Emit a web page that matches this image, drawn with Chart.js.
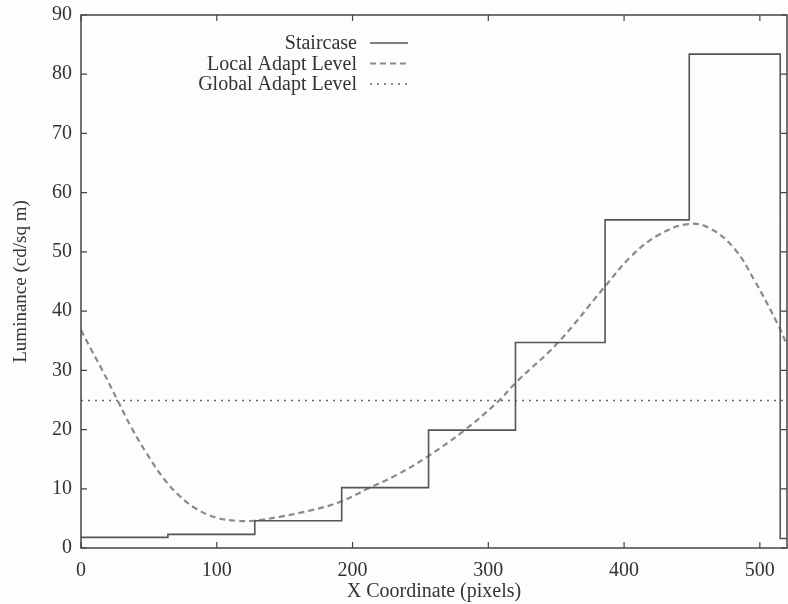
<!DOCTYPE html>
<html>
<head>
<meta charset="utf-8">
<script src="https://cdn.jsdelivr.net/npm/chart.js@4.4.0/dist/chart.umd.min.js"></script>
<style>
  html, body { margin: 0; padding: 0; background: #fdfdfd; }
  #wrap { width: 788px; height: 604px; }
</style>
</head>
<body>
<div id="wrap"><canvas id="chart" width="788" height="604"></canvas></div>
<script>
// Staircase luminance (step starts)
const stairX = [0, 64, 128, 192, 256, 320, 386, 448, 515, 520];
const stairY = [1.8, 2.3, 4.6, 10.2, 19.9, 34.7, 55.4, 83.4, 1.6, 1.6];

// Local adaptation level
const localX = [0, 8, 16, 27, 37, 48, 61, 73, 85, 100, 115, 127, 147, 170, 191, 211, 233, 255, 282, 307, 321, 351, 385, 405, 425, 447, 463, 481, 496, 514, 520];
const localY = [36.8, 33.3, 29.9, 24.9, 20.4, 16.1, 11.7, 8.7, 6.6, 5.1, 4.6, 4.6, 5.3, 6.4, 7.8, 10.0, 12.4, 15.4, 19.8, 24.7, 28.1, 34.6, 43.9, 49.2, 52.8, 54.7, 54.0, 50.6, 45.2, 37.4, 34.2];

// Global adaptation level
const globalX = [0, 520];
const globalY = [24.9, 24.9];

const seriesNames = ['Staircase', 'Local Adapt Level', 'Global Adapt Level'];
const xTicks = [0, 100, 200, 300, 400, 500];
const yTicks = [0, 10, 20, 30, 40, 50, 60, 70, 80, 90];

const FONT = "'Liberation Serif', 'DejaVu Serif', serif";
const INK = '#333333';

function pairs(xs, ys) {
  return xs.map(function(x, i) { return { x: x, y: ys[i] }; });
}

// gnuplot-like frame, inward ticks on all sides, and legend inside the plot
const framePlugin = {
  id: 'frame',
  afterDatasetsDraw(chart) {
    const ctx = chart.ctx;
    const a = chart.chartArea;
    const xs = chart.scales.x, ys = chart.scales.y;
    const tl = 6;
    ctx.save();
    ctx.strokeStyle = '#444';
    ctx.lineWidth = 1.5;
    ctx.strokeRect(a.left, a.top, a.right - a.left, a.bottom - a.top);
    ctx.lineWidth = 1.2;
    ctx.beginPath();
    xTicks.forEach(function(v) {
      const px = xs.getPixelForValue(v);
      ctx.moveTo(px, a.bottom); ctx.lineTo(px, a.bottom - tl);
      ctx.moveTo(px, a.top); ctx.lineTo(px, a.top + tl);
    });
    yTicks.forEach(function(v) {
      const py = ys.getPixelForValue(v);
      ctx.moveTo(a.left, py); ctx.lineTo(a.left + tl, py);
      ctx.moveTo(a.right, py); ctx.lineTo(a.right - tl, py);
    });
    ctx.stroke();

    // legend: text right-aligned, sample line to its right
    ctx.font = '20px ' + FONT;
    ctx.textAlign = 'right';
    ctx.textBaseline = 'middle';
    const textRight = 357, lineL = 370, lineR = 408;
    chart.data.datasets.forEach(function(ds, i) {
      const y = 43 + i * 20.5;
      ctx.fillStyle = INK;
      ctx.fillText(ds.label, textRight, y + 1);
      ctx.strokeStyle = ds.borderColor;
      ctx.lineWidth = ds.borderWidth;
      ctx.setLineDash(ds.borderDash || []);
      ctx.beginPath();
      ctx.moveTo(lineL, y); ctx.lineTo(lineR, y);
      ctx.stroke();
    });
    ctx.restore();
  }
};

new Chart(document.getElementById('chart'), {
  type: 'line',
  data: {
    datasets: [
      {
        label: seriesNames[0],
        data: pairs(stairX, stairY),
        stepped: true,
        borderColor: '#555555',
        borderWidth: 1.6,
        pointRadius: 0,
        fill: false
      },
      {
        label: seriesNames[1],
        data: pairs(localX, localY),
        tension: 0.4,
        borderColor: '#8a8a8a',
        borderWidth: 2.2,
        borderDash: [6, 4],
        pointRadius: 0,
        fill: false
      },
      {
        label: seriesNames[2],
        data: pairs(globalX, globalY),
        borderColor: '#666666',
        borderWidth: 1.5,
        borderDash: [2, 5],
        pointRadius: 0,
        fill: false
      }
    ]
  },
  options: {
    responsive: false,
    animation: false,
    events: [],
    layout: { padding: { top: 15, right: 1, left: 0, bottom: 0 } },
    plugins: {
      legend: { display: false },
      tooltip: { enabled: false }
    },
    scales: {
      x: {
        type: 'linear',
        min: 0,
        max: 520,
        afterFit: function(s) { s.height = 56; s.paddingLeft = 0; s.paddingRight = 0; },
        afterBuildTicks: function(s) { s.ticks = xTicks.map(function(v) { return { value: v }; }); },
        grid: { display: false, drawTicks: false },
        border: { display: false },
        ticks: { color: INK, font: { family: FONT, size: 20 }, padding: 11, maxRotation: 0 },
        title: { display: true, text: 'X Coordinate (pixels)', color: INK, font: { family: FONT, size: 20 }, padding: { top: 0, bottom: 0 } }
      },
      y: {
        min: 0,
        max: 90,
        afterFit: function(s) { s.width = 81; s.paddingTop = 0; s.paddingBottom = 0; },
        afterBuildTicks: function(s) { s.ticks = yTicks.map(function(v) { return { value: v }; }); },
        grid: { display: false, drawTicks: false },
        border: { display: false },
        ticks: { color: INK, font: { family: FONT, size: 20 }, padding: 9 },
        title: { display: true, text: 'Luminance (cd/sq m)', color: INK, font: { family: FONT, size: 19 }, padding: { top: 10, bottom: 0 } }
      }
    }
  },
  plugins: [framePlugin]
});
</script>
</body>
</html>
